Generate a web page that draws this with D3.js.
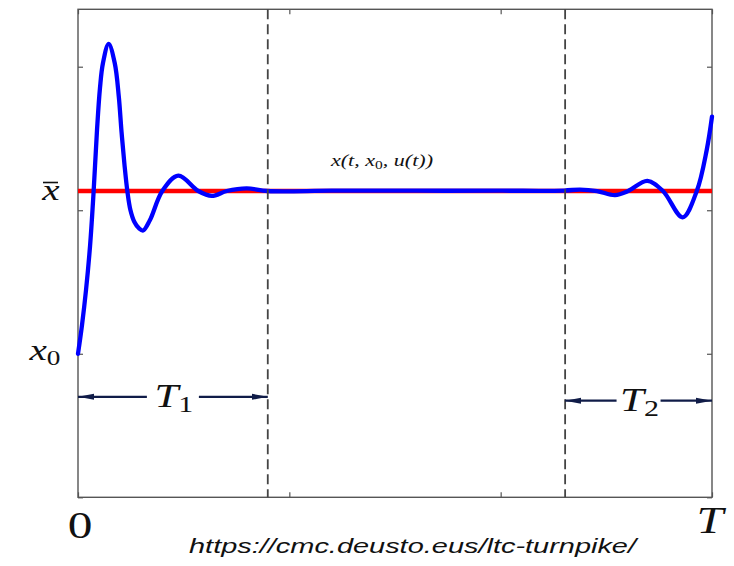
<!DOCTYPE html>
<html>
<head>
<meta charset="utf-8">
<script src="https://cdn.jsdelivr.net/npm/d3@7"></script>
<style>
  html, body { margin: 0; padding: 0; background: #fff; }
  svg { display: block; }
</style>
</head>
<body>
<svg id="chart" width="734" height="566"></svg>
<script>
// turnpike trajectory (t in [0, 3], state in [0, 3.4])
const tValues = [0, 0.019, 0.038, 0.057, 0.073, 0.090, 0.104, 0.118, 0.145, 0.174, 0.193, 0.206, 0.220, 0.234,
  0.248, 0.267, 0.289, 0.308, 0.340, 0.399, 0.475, 0.569, 0.633, 0.704, 0.798, 0.898,
  1.2, 1.6, 2.0, 2.3, 2.375, 2.456, 2.541, 2.603, 2.694, 2.768, 2.861, 2.928, 2.975, 3.0]
const xValues = [1.0, 1.201, 1.445, 1.751, 2.107, 2.560, 2.852, 3.024, 3.159, 3.024, 2.792, 2.546, 2.316, 2.128,
  2.002, 1.918, 1.873, 1.859, 1.930, 2.134, 2.241, 2.134, 2.1, 2.134, 2.152, 2.134,
  2.136, 2.136, 2.136, 2.137, 2.144, 2.134, 2.106, 2.134, 2.204, 2.134, 1.951, 2.134, 2.42, 2.652]
const xBar = 2.134
const x0 = 1.0
const switchTimes = [0.898, 2.305]
const arrowLevels = [0.70, 0.673]
const arrowNames = ['1', '2']
const tTicks = [0, 1, 2, 3]
const yTicks = [0, 1, 2, 3]

const width = 734
const height = 566
const margin = {top: 9.3, right: 22, bottom: 68.7, left: 78}
const serif = '"Liberation Serif", "DejaVu Serif", serif'
const axisColor = '#555'

const svg = d3.select('#chart')

const x = d3.scaleLinear().domain([0, 3]).range([margin.left, width - margin.right])
const y = d3.scaleLinear().domain([0, 3.4]).range([height - margin.bottom, margin.top])

svg.append('defs').append('marker')
  .attr('id', 'head')
  .attr('viewBox', '0 -4 16 8')
  .attr('refX', 16)
  .attr('refY', 0)
  .attr('markerWidth', 16)
  .attr('markerHeight', 8)
  .attr('markerUnits', 'userSpaceOnUse')
  .attr('orient', 'auto')
  .append('path')
  .attr('d', 'M0,-3L16,0L0,3Z')
  .attr('fill', '#101c48')

// ticks on all four sides, pointing inwards
const axes = [
  [d3.axisBottom(x).tickValues(tTicks), `translate(0,${y(0)})`],
  [d3.axisTop(x).tickValues(tTicks), `translate(0,${y(3.4)})`],
  [d3.axisLeft(y).tickValues(yTicks), `translate(${x(0)},0)`],
  [d3.axisRight(y).tickValues(yTicks), `translate(${x(3)},0)`]
]
for (const [axis, transform] of axes) {
  const g = svg.append('g')
    .attr('transform', transform)
    .call(axis.tickSize(-5).tickFormat(''))
  g.select('.domain').remove()
  g.selectAll('.tick line').attr('stroke', axisColor).attr('stroke-width', 1.2)
}

svg.append('rect')
  .attr('x', x(0))
  .attr('y', y(3.4))
  .attr('width', x(3) - x(0))
  .attr('height', y(0) - y(3.4))
  .attr('fill', 'none')
  .attr('stroke', axisColor)
  .attr('stroke-width', 1.4)

// steady state
svg.append('line')
  .attr('x1', x(0))
  .attr('x2', x(3))
  .attr('y1', y(xBar))
  .attr('y2', y(xBar))
  .attr('stroke', '#ff0000')
  .attr('stroke-width', 4.6)

const line = d3.line()
  .x(d => x(d[0]))
  .y(d => y(d[1]))
  .curve(d3.curveCatmullRom.alpha(0.5))

svg.append('path')
  .datum(d3.zip(tValues, xValues))
  .attr('d', line)
  .attr('fill', 'none')
  .attr('stroke', '#0000ff')
  .attr('stroke-width', 4.3)
  .attr('stroke-linejoin', 'round')
  .attr('stroke-linecap', 'round')

svg.selectAll('line.switch')
  .data(switchTimes)
  .join('line')
  .attr('class', 'switch')
  .attr('x1', d => x(d))
  .attr('x2', d => x(d))
  .attr('y1', y(3.4))
  .attr('y2', y(0))
  .attr('stroke', '#444')
  .attr('stroke-width', 1.8)
  .attr('stroke-dasharray', '10,5')

// math-looking label, stretched a bit like the original bitmap
const mathLabel = (px, py, size, base, sub, italic = true) => {
  const g = svg.append('g').attr('transform', `translate(${px},${py}) scale(1.3,1)`)
  const text = g.append('text')
    .attr('text-anchor', 'middle')
    .attr('font-family', serif)
    .attr('font-size', size)
    .attr('fill', '#111')
  text.append('tspan')
    .attr('font-style', italic ? 'italic' : 'normal')
    .text(base)
  if (sub) {
    text.append('tspan')
      .attr('font-size', size * 0.7)
      .attr('dy', size * 0.17)
      .text(sub)
  }
  return text
}

// interval arrows T1, T2
const intervals = [[0, switchTimes[0]], [switchTimes[1], 3]]
const gaps = [26, 22]
intervals.forEach(([a, b], i) => {
  const mid = (x(a) + x(b)) / 2
  const level = y(arrowLevels[i])
  svg.append('line')
    .attr('x1', mid - gaps[i]).attr('x2', x(a))
    .attr('y1', level).attr('y2', level)
    .attr('stroke', '#101c48').attr('stroke-width', 2.2)
    .attr('marker-end', 'url(#head)')
  svg.append('line')
    .attr('x1', mid + gaps[i]).attr('x2', x(b))
    .attr('y1', level).attr('y2', level)
    .attr('stroke', '#101c48').attr('stroke-width', 2.2)
    .attr('marker-end', 'url(#head)')
  mathLabel(mid + 1, level + 10, 33, 'T', arrowNames[i])
})

// y labels
mathLabel(51, y(xBar) + 9, 30, 'x')
svg.append('line')
  .attr('x1', 43).attr('x2', 58)
  .attr('y1', y(xBar) - 8.5).attr('y2', y(xBar) - 8.5)
  .attr('stroke', '#111').attr('stroke-width', 1.6)
mathLabel(45, y(x0) + 6, 30, 'x', '0')

// x labels
mathLabel(x(0) + 2, 538, 38, '0', null, false)
mathLabel(x(3) - 2, 533, 37, 'T')

// trajectory label
mathLabel(382, 166, 17, 'x(t, x', '0')
  .append('tspan')
  .attr('dy', -17 * 0.17)
  .attr('font-style', 'italic')
  .text(', u(t))')

svg.append('text')
  .attr('x', 189)
  .attr('y', 553)
  .attr('font-family', '"Liberation Sans", Arial, sans-serif')
  .attr('font-style', 'italic')
  .attr('font-size', 21)
  .attr('textLength', 447)
  .attr('lengthAdjust', 'spacingAndGlyphs')
  .attr('fill', '#111')
  .text('https://cmc.deusto.eus/ltc-turnpike/')
</script>
</body>
</html>
